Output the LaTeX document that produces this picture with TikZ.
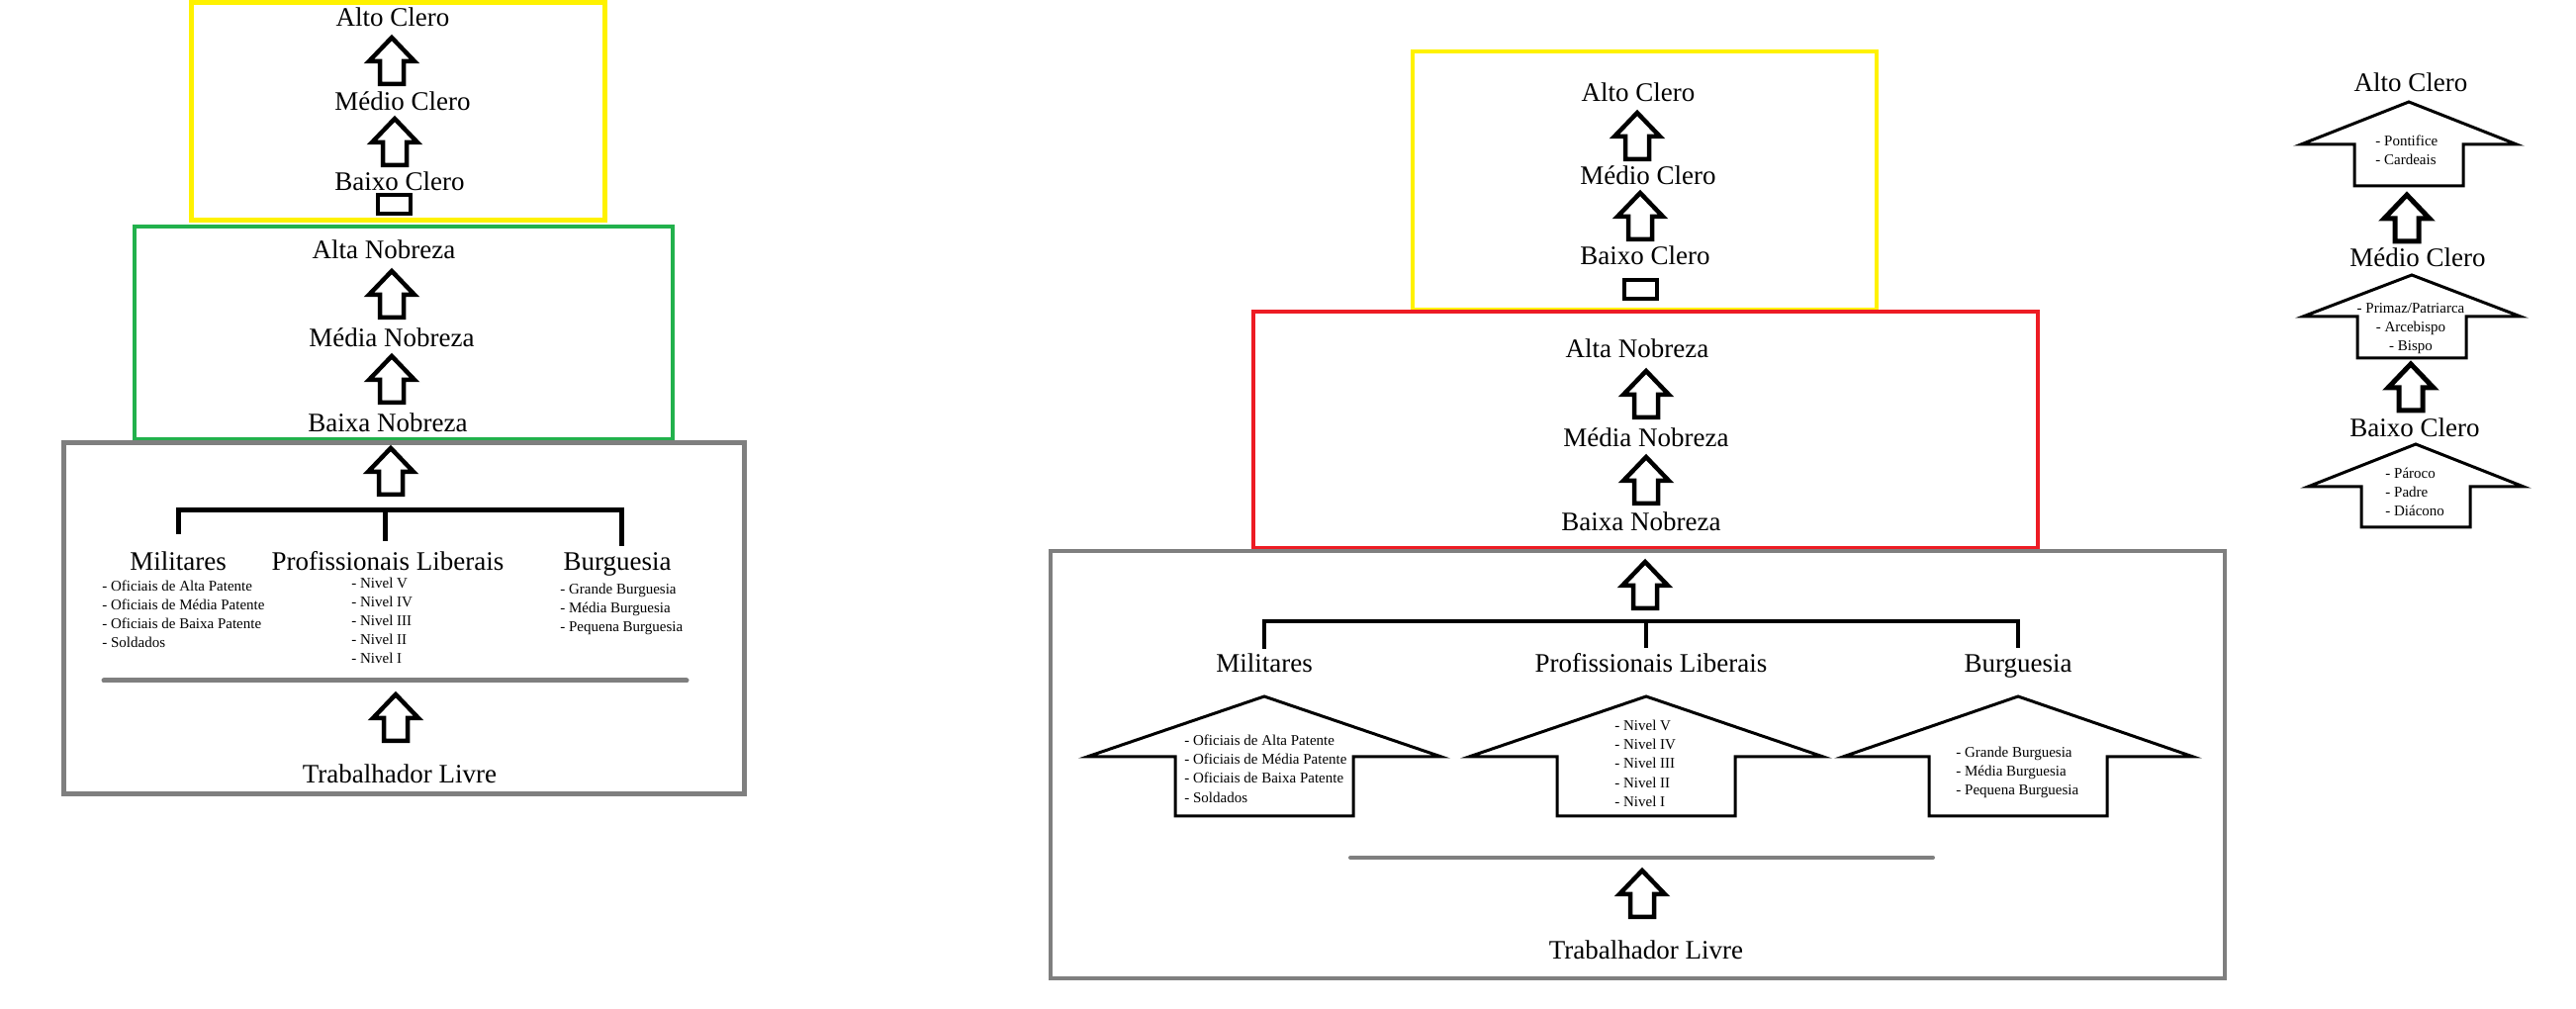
\documentclass[tikz,border=0pt]{standalone}
\usepackage{fontspec}
\setmainfont{Liberation Serif}
\definecolor{pyellow}{RGB}{255,242,0}
\definecolor{pgreen}{RGB}{34,177,76}
\definecolor{pred}{RGB}{237,28,36}
\definecolor{pgray}{RGB}{127,127,127}
\tikzset{
  big/.style={font=\fontsize{13.5}{16}\selectfont, inner sep=0pt, anchor=base},
  small/.style={font=\fontsize{7.5}{9}\selectfont, inner sep=0pt, anchor=base west},
  smallc/.style={font=\fontsize{7.5}{9}\selectfont, inner sep=0pt, anchor=base},
  uparrow/.pic={\draw (0,0) -- (23,24) -- (12,24) -- (12,47) -- (-12,47) -- (-12,24) -- (-23,24) -- cycle;},
  arrowpic/.style={line width=2.25pt},
  arrowpicb/.style={line width=2.5pt},
  houseline/.style={line width=1.5pt},
  stubbox/.style={line width=2.25pt},
}
\newcommand\drawhouse[6]{%
  \draw[houseline] (#1,#2) -- ({#1+#5},#3) -- ({#1+#6},#3) -- ({#1+#6},#4) -- ({#1-#6},#4) -- ({#1-#6},#3) -- ({#1-#5},#3) -- cycle;}
\begin{document}
\begin{tikzpicture}[x=0.5pt,y=-0.5pt]
\useasboundingbox (0,0) rectangle (2604,1020);
\fill[white] (0,0) rectangle (2604,1020);

% ================= LEFT DIAGRAM =================
\draw[pyellow, line width=2.5pt] (193,3) rectangle (611,223);
\draw[pgreen, line width=2pt] (136,229) rectangle (680,444);
\draw[pgray, line width=2.5pt] (64,448) rectangle (752,803);

\node[big] (lac) at (397,27) {Alto Clero};
\node[big] (lmc) at (407,112) {Médio Clero};
\node[big] (lbc) at (404,193) {Baixo Clero};
\node[big] (lan) at (388,262) {Alta Nobreza};
\node[big] (lmn) at (396,351) {Média Nobreza};
\node[big] (lbn) at (392,437) {Baixa Nobreza};

\pic[arrowpic] at (396,38) {uparrow};
\pic[arrowpic] at (399,120) {uparrow};
\pic[arrowpic] at (396,274) {uparrow};
\pic[arrowpic] at (396,360) {uparrow};
\pic[arrowpic] at (395,453) {uparrow};
\pic[arrowpic] at (400,702) {uparrow};
\draw[stubbox] (382,197) rectangle (415,216);

\draw[line width=2.5pt] (180,540) -- (180,516) -- (628,516) -- (628,552);
\draw[line width=2.5pt] (389,516) -- (389,547);

\node[big] (lmil) at (180,577) {Militares};
\node[big] (lprof) at (392,577) {Profissionais Liberais};
\node[big] (lburg) at (624,577) {Burguesia};

\foreach \t [count=\i] in {- Oficiais de Alta Patente, - Oficiais de Média Patente, - Oficiais de Baixa Patente, - Soldados}
  \node[small] (lmil\i) at (103,{579+19*\i}) {\t};
\foreach \t [count=\i] in {- Nivel V, - Nivel IV, - Nivel III, - Nivel II, - Nivel I}
  \node[small] (lniv\i) at (355,{576+19*\i}) {\t};
\foreach \t [count=\i] in {- Grande Burguesia, - Média Burguesia, - Pequena Burguesia}
  \node[small] (lbur\i) at (566,{582+19*\i}) {\t};

\draw[pgray, line width=2.5pt, line cap=round] (105,688) -- (694,688);
\node[big] (ltl) at (404,792) {Trabalhador Livre};

% ================= MIDDLE DIAGRAM =================
\draw[pyellow, line width=2pt] (1428,52) rectangle (1897,313);
\draw[pred, line width=1.75pt] (1267,315) rectangle (2060,554);
\draw[pgray, line width=1.75pt] (1062,557) rectangle (2249,989);

\node[big] (mac) at (1656,103) {Alto Clero};
\node[big] (mmc) at (1666,187) {Médio Clero};
\node[big] (mbc) at (1663,268) {Baixo Clero};
\node[big] (man) at (1655,362) {Alta Nobreza};
\node[big] (mmn) at (1664,452) {Média Nobreza};
\node[big] (mbn) at (1659,537) {Baixa Nobreza};

\pic[arrowpic] at (1655,114) {uparrow};
\pic[arrowpic] at (1658,195) {uparrow};
\pic[arrowpic] at (1664,375) {uparrow};
\pic[arrowpic] at (1664,462) {uparrow};
\pic[arrowpic] at (1663,568) {uparrow};
\pic[arrowpic] at (1660,880) {uparrow};
\draw[stubbox] (1642,283) rectangle (1675,302);

\draw[line width=1.75pt] (1278,656) -- (1278,628) -- (2040,628) -- (2040,655);
\draw[line width=1.75pt] (1664,628) -- (1664,655);

\node[big] (mmil) at (1278,680) {Militares};
\node[big] (mprof) at (1669,680) {Profissionais Liberais};
\node[big] (mburg) at (2040,680) {Burguesia};

\drawhouse{1278}{704}{765}{825}{179}{90}
\drawhouse{1664}{704}{765}{825}{179}{90}
\drawhouse{2040}{704}{765}{825}{177}{90}

\foreach \t [count=\i] in {- Oficiais de Alta Patente, - Oficiais de Média Patente, - Oficiais de Baixa Patente, - Soldados}
  \node[small] (mmil\i) at (1197,{734+19.3*\i}) {\t};
\foreach \t [count=\i] in {- Nivel V, - Nivel IV, - Nivel III, - Nivel II, - Nivel I}
  \node[small] (mniv\i) at (1632,{719+19.3*\i}) {\t};
\foreach \t [count=\i] in {- Grande Burguesia, - Média Burguesia, - Pequena Burguesia}
  \node[small] (mbur\i) at (1977,{746+19.3*\i}) {\t};

\draw[pgray, line width=2pt, line cap=round] (1365,867) -- (1954,867);
\node[big] (mtl) at (1664,970) {Trabalhador Livre};

% ================= RIGHT DIAGRAM =================
\node[big] (rac) at (2437,93) {Alto Clero};
\node[big] (rmc) at (2444,270) {Médio Clero};
\node[big] (rbc) at (2441,442) {Baixo Clero};

\drawhouse{2435}{103}{146}{188}{109}{55}
\drawhouse{2438}{278}{320}{362}{110}{55}
\drawhouse{2442}{449}{492}{533}{109}{55}

\pic[arrowpicb] at (2433,197) {uparrow};
\pic[arrowpicb] at (2437,368) {uparrow};

\node[small] (rac1) at (2401,148) {- Pontifice};
\node[small] (rac2) at (2401,167) {- Cardeais};
\node[smallc] (rmc1) at (2437,317) {- Primaz/Patriarca};
\node[smallc] (rmc2) at (2437,336) {- Arcebispo};
\node[smallc] (rmc3) at (2437,355) {- Bispo};
\node[small] (rbc1) at (2411,484) {- Pároco};
\node[small] (rbc2) at (2411,503) {- Padre};
\node[small] (rbc3) at (2411,522) {- Diácono};
\end{tikzpicture}
\end{document}
